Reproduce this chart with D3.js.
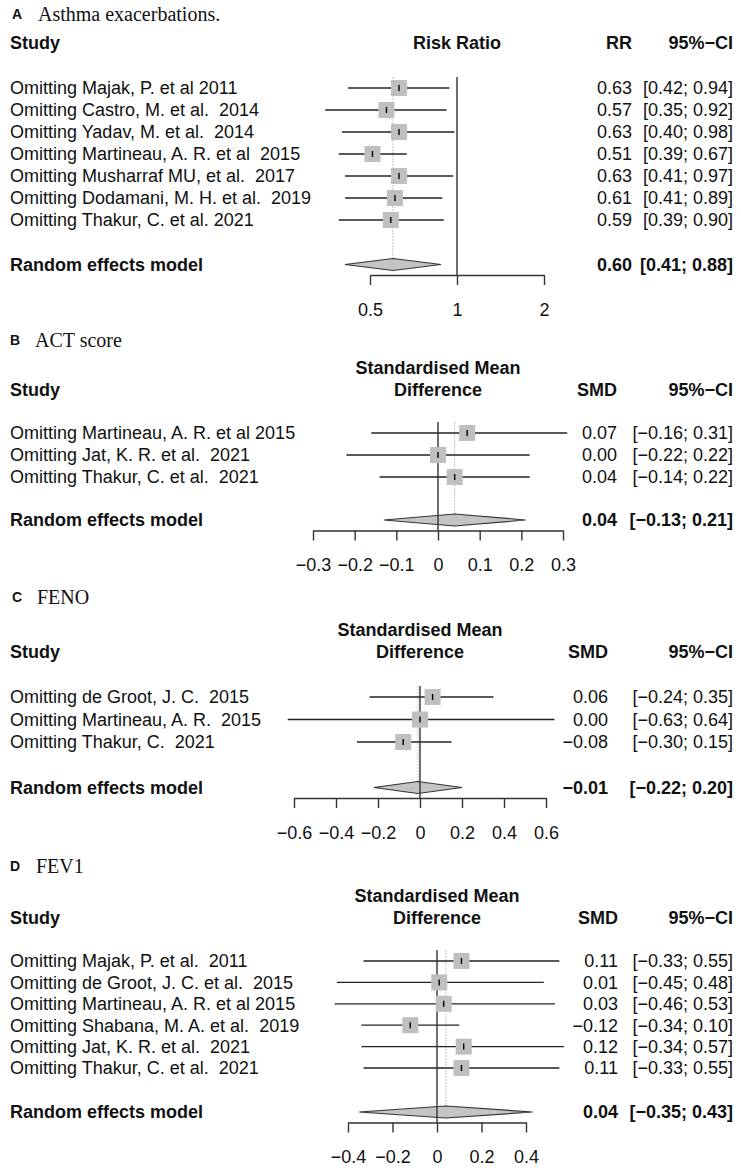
<!DOCTYPE html>
<html>
<head>
<meta charset="utf-8">
<script src="https://cdn.jsdelivr.net/npm/d3@7"></script>
<style>
    body { margin: 0; background: #fff; }
    svg text { font-family: "Liberation Sans", Arial, sans-serif; white-space: pre; fill: #111; }
</style>
</head>
<body>
<div id="chart"></div>
<script>
// A: asthma exacerbations (risk ratio, log scale)
var studiesA = ["Omitting Majak, P. et al 2011", "Omitting Castro, M. et al.  2014", "Omitting Yadav, M. et al.  2014",
    "Omitting Martineau, A. R. et al  2015", "Omitting Musharraf MU, et al.  2017",
    "Omitting Dodamani, M. H. et al.  2019", "Omitting Thakur, C. et al. 2021"];
var rrA = [0.63, 0.57, 0.63, 0.51, 0.63, 0.61, 0.59];
var lowA = [0.42, 0.35, 0.40, 0.39, 0.41, 0.41, 0.39];
var highA = [0.94, 0.92, 0.98, 0.67, 0.97, 0.89, 0.90];
var pooledA = [0.60, 0.41, 0.88];
var ticksA = [0.5, 1, 2];

// B: ACT score
var studiesB = ["Omitting Martineau, A. R. et al 2015", "Omitting Jat, K. R. et al.  2021", "Omitting Thakur, C. et al.  2021"];
var smdB = [0.07, 0.00, 0.04];
var lowB = [-0.16, -0.22, -0.14];
var highB = [0.31, 0.22, 0.22];
var pooledB = [0.04, -0.13, 0.21];
var ticksB = [-0.3, -0.2, -0.1, 0, 0.1, 0.2, 0.3];

// C: FENO
var studiesC = ["Omitting de Groot, J. C.  2015", "Omitting Martineau, A. R.  2015", "Omitting Thakur, C.  2021"];
var smdC = [0.06, 0.00, -0.08];
var lowC = [-0.24, -0.63, -0.30];
var highC = [0.35, 0.64, 0.15];
var pooledC = [-0.01, -0.22, 0.20];
var ticksC = [-0.6, -0.4, -0.2, 0, 0.2, 0.4, 0.6];

// D: FEV1
var studiesD = ["Omitting Majak, P. et al.  2011", "Omitting de Groot, J. C. et al.  2015",
    "Omitting Martineau, A. R. et al 2015", "Omitting Shabana, M. A. et al.  2019",
    "Omitting Jat, K. R. et al.  2021", "Omitting Thakur, C. et al.  2021"];
var smdD = [0.11, 0.01, 0.03, -0.12, 0.12, 0.11];
var lowD = [-0.33, -0.45, -0.46, -0.34, -0.34, -0.33];
var highD = [0.55, 0.48, 0.53, 0.10, 0.57, 0.55];
var pooledD = [0.04, -0.35, 0.43];
var ticksD = [-0.4, -0.2, 0, 0.2, 0.4];

var svg = d3.select("#chart").append("svg")
    .attr("width", 741)
    .attr("height", 1168);

var fmt = d3.format(".2f");
var ciRight = 733;

function forest(p) {
    var g = svg.append("g");

    var x = (p.log ? d3.scaleLog() : d3.scaleLinear())
        .domain([p.ticks[0], p.ticks[p.ticks.length - 1]])
        .range(p.range);

    var rowY = function (i) { return p.firstRow + i * p.step; };
    var top = p.firstRow - 11;
    var axisY = p.pooledY + 10.5;

    // panel title
    g.append("text")
        .attr("x", p.letterX).attr("y", p.titleY).attr("dy", "0.35em")
        .style("font-weight", "bold").style("font-size", "14px")
        .text(p.letter);
    g.append("text")
        .attr("x", p.titleX).attr("y", p.titleY).attr("dy", "0.35em")
        .style("font-family", "'Liberation Serif', 'Times New Roman', serif")
        .style("font-size", "20px")
        .text(p.title);

    // column headers
    var head = g.append("g").style("font-weight", "bold").style("font-size", "18px");
    head.append("text").attr("x", 10).attr("y", p.headY).attr("dy", "0.35em").text("Study");
    head.selectAll(".eff-head")
        .data(p.effHead)
        .enter().append("text")
        .attr("class", "eff-head")
        .attr("x", (p.range[0] + p.range[1]) / 2)
        .attr("y", function (d, i) { return p.headY - (p.effHead.length - 1 - i) * 22; })
        .attr("dy", "0.35em")
        .style("text-anchor", "middle")
        .text(function (d) { return d; });
    head.append("text").attr("x", p.effRight).attr("y", p.headY).attr("dy", "0.35em")
        .style("text-anchor", "end").text(p.effName);
    head.append("text").attr("x", ciRight).attr("y", p.headY).attr("dy", "0.35em")
        .style("text-anchor", "end").text("95%\u2212CI");

    // pooled estimate (dotted) and null line
    g.append("line")
        .attr("x1", x(p.pooled[0])).attr("x2", x(p.pooled[0]))
        .attr("y1", top).attr("y2", p.pooledY - 6)
        .attr("stroke", "#c4c4c4").attr("stroke-width", 1)
        .attr("stroke-dasharray", "2,1");

    // confidence intervals
    g.selectAll(".ci")
        .data(p.est)
        .enter().append("line")
        .attr("class", "ci")
        .attr("x1", function (d, i) { return x(p.low[i]); })
        .attr("x2", function (d, i) { return x(p.high[i]); })
        .attr("y1", function (d, i) { return rowY(i); })
        .attr("y2", function (d, i) { return rowY(i); })
        .attr("stroke", "#222").attr("stroke-width", 1.3);

    // diamond
    g.append("path")
        .attr("d", d3.line()([
            [x(p.pooled[1]), p.pooledY], [x(p.pooled[0]), p.pooledY - 6],
            [x(p.pooled[2]), p.pooledY], [x(p.pooled[0]), p.pooledY + 6]]) + "Z")
        .attr("fill", "#c4c4c4").attr("stroke", "#333").attr("stroke-width", 1.2);

    g.append("line")
        .attr("x1", x(p.ref)).attr("x2", x(p.ref))
        .attr("y1", top).attr("y2", axisY)
        .attr("stroke", "#333").attr("stroke-width", 1.4);

    // study squares
    g.selectAll(".sq")
        .data(p.est)
        .enter().append("rect")
        .attr("class", "sq")
        .attr("x", function (d) { return x(d) - 8; })
        .attr("y", function (d, i) { return rowY(i) - 8; })
        .attr("width", 16).attr("height", 16)
        .attr("fill", "#bfbfbf");
    g.selectAll(".mid")
        .data(p.est)
        .enter().append("line")
        .attr("class", "mid")
        .attr("x1", function (d) { return x(d); })
        .attr("x2", function (d) { return x(d); })
        .attr("y1", function (d, i) { return rowY(i) - 3; })
        .attr("y2", function (d, i) { return rowY(i) + 3; })
        .attr("stroke", "#000").attr("stroke-width", 1.4);

    // axis
    var axis = g.append("g")
        .attr("transform", "translate(0," + axisY + ")")
        .call(d3.axisBottom(x)
            .tickValues(p.ticks)
            .tickFormat(d3.format(""))
            .tickSize(10)
            .tickSizeOuter(0)
            .tickPadding(18));
    axis.select(".domain").attr("stroke", "#333").attr("stroke-width", 1.4);
    axis.selectAll(".tick line").attr("stroke", "#333").attr("stroke-width", 1.4);
    axis.selectAll(".tick text")
        .style("font-size", "18px")
        .style("font-family", "'Liberation Sans', Arial, sans-serif")
        .attr("fill", "#111");

    // study rows text
    var rows = g.selectAll(".row")
        .data(p.studies)
        .enter().append("g")
        .attr("class", "row")
        .style("font-size", "18px")
        .attr("transform", function (d, i) { return "translate(0," + rowY(i) + ")"; });
    rows.append("text").attr("x", 10).attr("dy", "0.35em").text(function (d) { return d; });
    rows.append("text").attr("x", p.effRight).attr("dy", "0.35em").style("text-anchor", "end")
        .text(function (d, i) { return fmt(p.est[i]); });
    rows.append("text").attr("x", ciRight).attr("dy", "0.35em").style("text-anchor", "end")
        .text(function (d, i) { return "[" + fmt(p.low[i]) + "; " + fmt(p.high[i]) + "]"; });

    // random effects row
    var re = g.append("g")
        .attr("transform", "translate(0," + p.pooledY + ")")
        .style("font-size", "18px").style("font-weight", "bold");
    re.append("text").attr("x", 10).attr("dy", "0.35em").text("Random effects model");
    re.append("text").attr("x", p.effRight).attr("dy", "0.35em").style("text-anchor", "end")
        .text(fmt(p.pooled[0]));
    re.append("text").attr("x", ciRight).attr("dy", "0.35em").style("text-anchor", "end")
        .text("[" + fmt(p.pooled[1]) + "; " + fmt(p.pooled[2]) + "]");
}

forest({
    letter: "A", letterX: 12, title: "Asthma exacerbations.", titleX: 38, titleY: 14,
    effHead: ["Risk Ratio"], effName: "RR", effRight: 632, headY: 43,
    studies: studiesA, est: rrA, low: lowA, high: highA, pooled: pooledA,
    log: true, ticks: ticksA, range: [370, 544], ref: 1,
    firstRow: 88, step: 22, pooledY: 264.5
});

forest({
    letter: "B", letterX: 10, title: "ACT score", titleX: 35, titleY: 340,
    effHead: ["Standardised Mean", "Difference"], effName: "SMD", effRight: 617, headY: 390,
    studies: studiesB, est: smdB, low: lowB, high: highB, pooled: pooledB,
    log: false, ticks: ticksB, range: [313, 563], ref: 0,
    firstRow: 433, step: 22, pooledY: 520
});

forest({
    letter: "C", letterX: 12, title: "FENO", titleX: 37, titleY: 597,
    effHead: ["Standardised Mean", "Difference"], effName: "SMD", effRight: 608, headY: 652,
    studies: studiesC, est: smdC, low: lowC, high: highC, pooled: pooledC,
    log: false, ticks: ticksC, range: [294, 546], ref: 0,
    firstRow: 697, step: 22.5, pooledY: 787.5
});

forest({
    letter: "D", letterX: 10, title: "FEV1", titleX: 36, titleY: 866,
    effHead: ["Standardised Mean", "Difference"], effName: "SMD", effRight: 618, headY: 918,
    studies: studiesD, est: smdD, low: lowD, high: highD, pooled: pooledD,
    log: false, ticks: ticksD, range: [348, 526], ref: 0,
    firstRow: 961, step: 21.4, pooledY: 1112
});
</script>
</body>
</html>
